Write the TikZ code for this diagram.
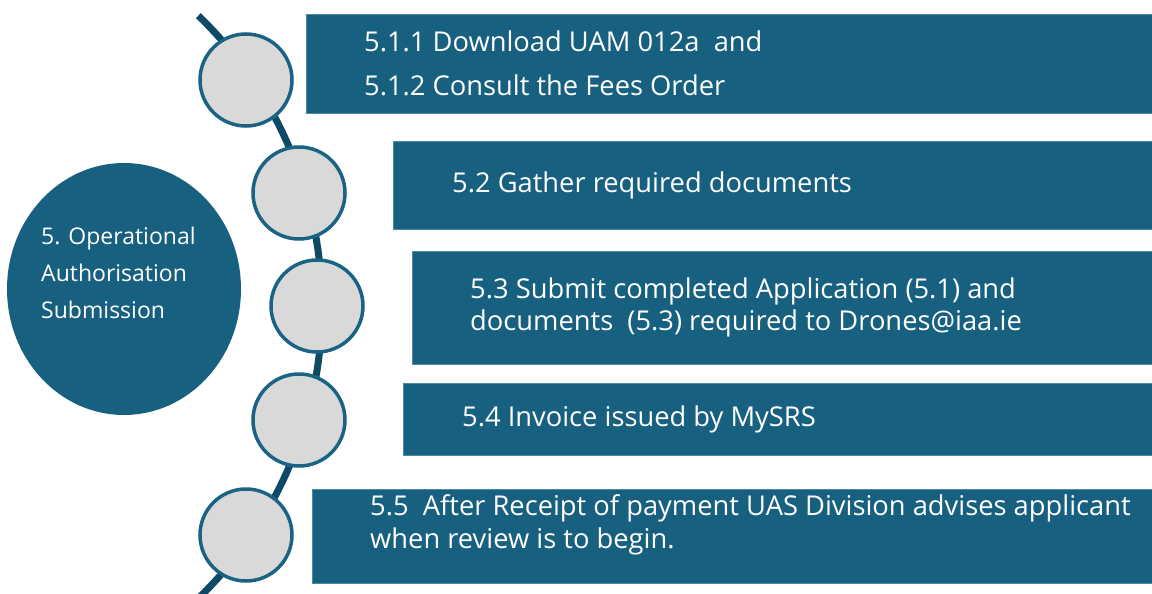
\documentclass[tikz,border=0pt]{standalone}
\usepackage{fontspec}
\setmainfont{Open Sans}
\definecolor{boxblue}{HTML}{18607F}
\definecolor{edgeblue}{HTML}{4F88A3}
\definecolor{ringblue}{HTML}{1A6384}
\definecolor{linedark}{HTML}{0E4A66}
\definecolor{bead}{HTML}{D9D9D9}
\tikzset{
  stepbar/.style={fill=boxblue, draw=edgeblue, line width=0.8pt},
  bead/.style={circle, fill=bead, draw=ringblue, line width=3.5pt, minimum size=92pt, inner sep=0pt},
  bartext/.style={anchor=west, align=left, text=white, font=\fontsize{27.3}{44}\selectfont, inner sep=0pt},
}
\begin{document}
\begin{tikzpicture}[x=1pt, y=-1pt]
\useasboundingbox (0,0) rectangle (1152,594);
% bars
\path[stepbar] (306,14) rectangle (1160,113);
\path[stepbar] (393,141) rectangle (1160,229);
\path[stepbar] (412,251) rectangle (1160,364);
\path[stepbar] (403,383) rectangle (1160,455);
\path[stepbar] (312,489) rectangle (1160,583);
% arc spine
\draw[linedark, line width=7pt] (-83,307) ++(-46:405) arc[start angle=-46, end angle=48, radius=405];
% beads
\node[bead] (c1) at (246,80) {};
\node[bead] (c2) at (299,193) {};
\node[bead] (c3) at (317,306) {};
\node[bead] (c4) at (299,420) {};
\node[bead] (c5) at (246,535) {};
% main ellipse
\fill[boxblue] (124,289) ellipse[x radius=117, y radius=126];
\node[anchor=west, align=left, text=white, inner sep=0pt,
      font=\fontsize{23}{37}\selectfont] (main) at (41,273)
  {5. Operational\\Authorisation\\Submission};
% texts
\node[bartext] (t1) at (364,63) {5.1.1 Download UAM 012a\ \ and\\5.1.2 Consult the Fees Order};
\node[bartext] (t2) at (452,185) {5.2 Gather required documents};
\node[bartext, font=\fontsize{27.3}{32}\selectfont] (t3) at (470,307) {5.3 Submit completed Application (5.1) and\\documents\ \ (5.3) required to Drones@iaa.ie};
\node[bartext] (t4) at (462,419) {5.4 Invoice issued by MySRS};
\node[bartext, font=\fontsize{27.3}{33}\selectfont] (t5) at (370,525) {5.5\ \ After Receipt of payment UAS Division advises applicant\\when review is to begin.};
\end{tikzpicture}
\end{document}
